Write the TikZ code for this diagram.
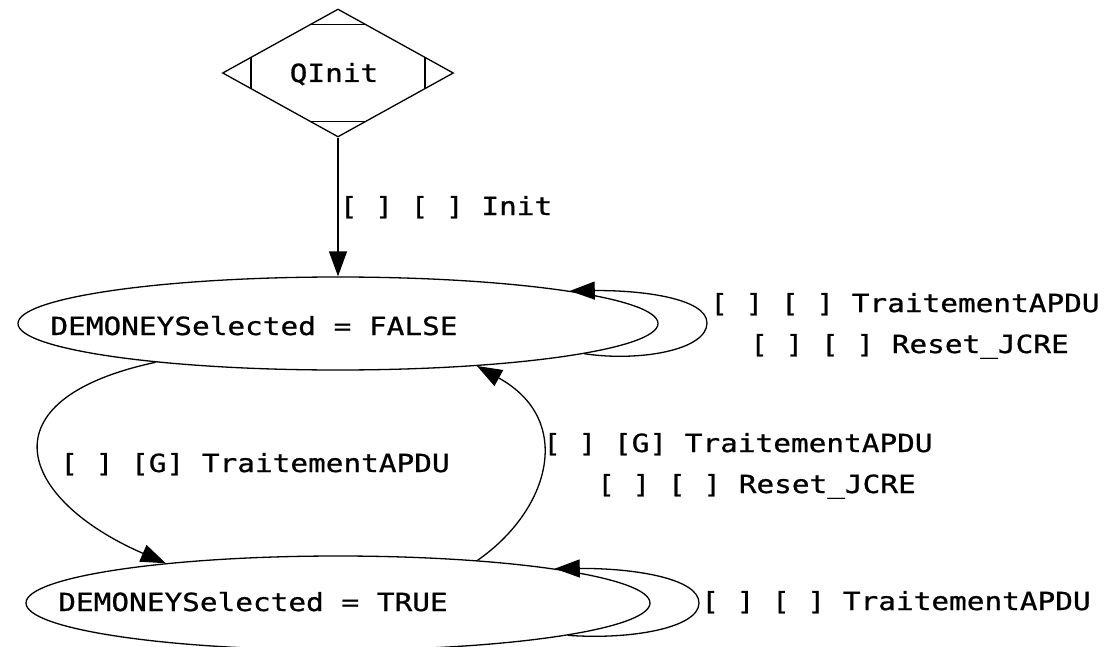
\documentclass[tikz,border=0pt]{standalone}
\usepackage{fontspec}
\newfontfamily\lblfont[FakeStretch=1.176,FakeBold=0.8]{DejaVu Sans Mono}
\usetikzlibrary{shapes.geometric,arrows.meta,calc}
\begin{document}
\begin{tikzpicture}[x=1pt,y=-1pt,
  every node/.style={font=\lblfont\fontsize{25}{41}\selectfont},
  state/.style={draw, ellipse, line width=1.3pt, inner sep=0pt},
  initstate/.style={draw, diamond, line width=1.3pt, inner sep=0pt, minimum width=231pt, minimum height=128pt},
  lbl/.style={inner sep=0pt, anchor=base},
  lbltwo/.style={inner sep=0pt, align=left, anchor=base west},
  edge/.style={line width=1.3pt, -{Triangle[length=25pt,width=18pt]}},
  mark line/.style={line width=1.3pt},
]
\useasboundingbox (0,0) rectangle (1113,647);
\fill[white] (0,0) rectangle (1113,647);

% initial state (Mdiamond)
\node[initstate] (q) at (338,73) {};
\node[lbl] (qt) at (334,82) {QInit};
\draw[mark line] ($(q.center)+(-27.5,-48.8)$) -- ($(q.center)+(27.5,-48.8)$);
\draw[mark line] ($(q.center)+(-27.5,48.8)$) -- ($(q.center)+(27.5,48.8)$);
\draw[mark line] ($(q.center)+(-87,-15.8)$) -- ($(q.center)+(-87,15.8)$);
\draw[mark line] ($(q.center)+(87,-15.8)$) -- ($(q.center)+(87,15.8)$);

% states
\node[state, minimum width=640pt, minimum height=93pt] (f) at (338,323.5) {};
\node[lbl] (ft) at (254,335) {DEMONEYSelected = FALSE};
\node[state, minimum width=624pt, minimum height=94pt] (t) at (338,603) {};
\node[lbl] (tt) at (253,611) {DEMONEYSelected = TRUE};

% edges
\draw[edge] (q.south) -- (f.north);
\node[lbl] (l1) at (446,215) {[ ] [ ] Init};

\draw[edge] (f.-7.9) .. controls (640,362) and (707,350) .. (707,323)
            .. controls (707,298) and (640,290) .. (f.8.9);
\node[lbltwo] (l2) at (710,353) {[ ] [ ] TraitementAPDU\\[0pt]\hspace*{40pt}[ ] [ ] Reset\_JCRE};

\draw[edge] (f.192.6) .. controls (-20,400) and (20,500) .. (t.167.5);
\node[lbl] (l3) at (255,472) {[ ] [G] TraitementAPDU};

\draw[edge] (t.17.3) .. controls (550,510) and (575,420) .. (f.-17.3);
\node[lbltwo] (l4) at (543,493) {[ ] [G] TraitementAPDU\\[0pt]\hspace*{54pt}[ ] [ ] Reset\_JCRE};

\draw[edge] (t.-8.5) .. controls (630,640) and (699,628) .. (699,603)
            .. controls (699,578) and (632,568) .. (t.9.87);
\node[lbl] (l5) at (896,610) {[ ] [ ] TraitementAPDU};
\end{tikzpicture}
\end{document}
